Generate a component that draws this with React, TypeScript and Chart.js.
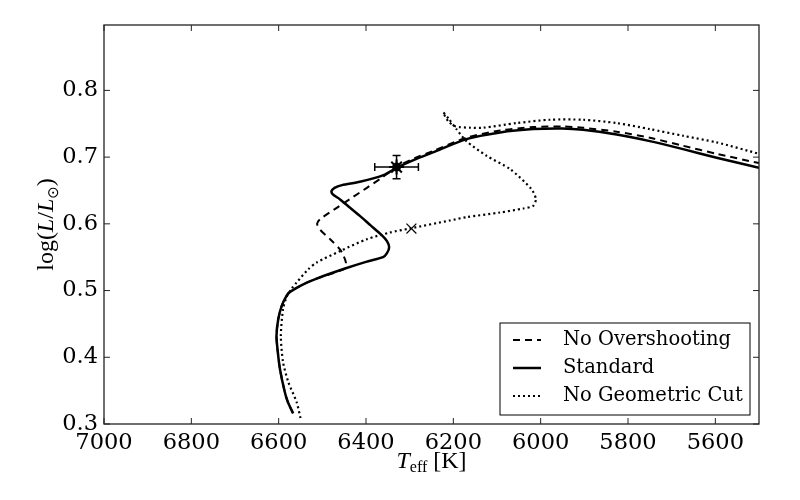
import React, { useEffect, useRef } from "react";
import { Chart, registerables } from "chart.js";

Chart.register(...registerables);

// ---- data ----
const xTicks = [7000, 6800, 6600, 6400, 6200, 6000, 5800, 5600];
const yTicks = [0.3, 0.4, 0.5, 0.6, 0.7, 0.8];
const seriesLabels = ["No Overshooting", "Standard", "No Geometric Cut"];

const standardT = [6567, 6579, 6586, 6597, 6602, 6605, 6601, 6593, 6582, 6574, 6545, 6513, 6448, 6400, 6361, 6352, 6347, 6352, 6364, 6390, 6414, 6440, 6460, 6476, 6479, 6472, 6455, 6414, 6360, 6330, 6290, 6247, 6170, 6093, 6017, 5950, 5903, 5826, 5750, 5674, 5597, 5500];
const standardL = [0.316, 0.333, 0.348, 0.382, 0.408, 0.432, 0.457, 0.477, 0.492, 0.498, 0.509, 0.518, 0.533, 0.543, 0.550, 0.556, 0.565, 0.574, 0.583, 0.598, 0.612, 0.626, 0.637, 0.644, 0.649, 0.654, 0.658, 0.663, 0.673, 0.684, 0.696, 0.707, 0.727, 0.737, 0.742, 0.743, 0.741, 0.734, 0.724, 0.712, 0.699, 0.684];

const noOverT = [6567, 6579, 6586, 6597, 6602, 6605, 6601, 6593, 6582, 6574, 6545, 6513, 6448, 6446, 6452, 6460, 6482, 6505, 6512, 6505, 6467, 6437, 6398, 6364, 6330, 6290, 6247, 6170, 6093, 6017, 5950, 5903, 5826, 5750, 5674, 5597, 5500];
const noOverL = [0.316, 0.333, 0.348, 0.382, 0.408, 0.432, 0.457, 0.477, 0.492, 0.498, 0.509, 0.518, 0.533, 0.542, 0.553, 0.562, 0.577, 0.591, 0.600, 0.607, 0.624, 0.637, 0.654, 0.669, 0.685, 0.698, 0.709, 0.729, 0.740, 0.745, 0.746, 0.744, 0.738, 0.729, 0.717, 0.705, 0.691];

const noCutT = [6550, 6559, 6578, 6590, 6595, 6590, 6582, 6570, 6559, 6532, 6513, 6460, 6398, 6345, 6300, 6208, 6170, 6093, 6040, 6017, 6011, 6021, 6070, 6124, 6170, 6193, 6210, 6223, 6212, 6195, 6160, 6132, 6055, 5979, 5903, 5826, 5750, 5674, 5597, 5500];
const noCutL = [0.309, 0.333, 0.363, 0.393, 0.432, 0.472, 0.490, 0.503, 0.512, 0.532, 0.542, 0.559, 0.577, 0.587, 0.593, 0.605, 0.610, 0.617, 0.623, 0.627, 0.637, 0.652, 0.682, 0.702, 0.724, 0.742, 0.757, 0.767, 0.754, 0.746, 0.744, 0.744, 0.751, 0.756, 0.756, 0.751, 0.742, 0.732, 0.722, 0.705];

const obsT = [6330];
const obsL = [0.685];
const obsErrT = [50];
const obsErrL = [0.0175];

const crossT = [6296];
const crossL = [0.593];

const toPts = (xs: number[], ys: number[]) => xs.map((x, i) => ({ x, y: ys[i] }));

const legendStyles: Record<string, { dash: number[]; width: number }> = {
  "No Overshooting": { dash: [7, 5], width: 2 },
  Standard: { dash: [], width: 2.5 },
  "No Geometric Cut": { dash: [2, 3], width: 2.2 },
};

const overlay = {
  id: "overlay",
  afterDatasetsDraw(chart: any) {
    const ctx = chart.ctx;
    const xs = chart.scales.x;
    const ys = chart.scales.y;
    ctx.save();
    ctx.strokeStyle = "#000";
    ctx.lineWidth = 1.5;
    ctx.setLineDash([]);
    obsT.forEach((t, i) => {
      const l = obsL[i];
      const x0 = xs.getPixelForValue(t - obsErrT[i]);
      const x1 = xs.getPixelForValue(t + obsErrT[i]);
      const yc = ys.getPixelForValue(l);
      const y0 = ys.getPixelForValue(l - obsErrL[i]);
      const y1 = ys.getPixelForValue(l + obsErrL[i]);
      const xc = xs.getPixelForValue(t);
      ctx.beginPath();
      ctx.moveTo(x0, yc); ctx.lineTo(x1, yc);
      ctx.moveTo(x0, yc - 4); ctx.lineTo(x0, yc + 4);
      ctx.moveTo(x1, yc - 4); ctx.lineTo(x1, yc + 4);
      ctx.moveTo(xc, y0); ctx.lineTo(xc, y1);
      ctx.moveTo(xc - 4, y0); ctx.lineTo(xc + 4, y0);
      ctx.moveTo(xc - 4, y1); ctx.lineTo(xc + 4, y1);
      ctx.stroke();
    });
    ctx.restore();
  },
  afterDraw(chart: any) {
    const ctx = chart.ctx;
    const ca = chart.chartArea;
    const xs = chart.scales.x;
    const ys = chart.scales.y;
    ctx.save();
    // frame
    ctx.strokeStyle = "#222";
    ctx.lineWidth = 1.3;
    ctx.setLineDash([]);
    ctx.strokeRect(ca.left, ca.top, ca.right - ca.left, ca.bottom - ca.top);
    // inward ticks
    ctx.lineWidth = 1;
    ctx.beginPath();
    xTicks.forEach((v) => {
      const px = xs.getPixelForValue(v);
      ctx.moveTo(px, ca.bottom); ctx.lineTo(px, ca.bottom - 6);
      ctx.moveTo(px, ca.top); ctx.lineTo(px, ca.top + 6);
    });
    yTicks.forEach((v) => {
      const py = ys.getPixelForValue(v);
      ctx.moveTo(ca.left, py); ctx.lineTo(ca.left + 6, py);
      ctx.moveTo(ca.right, py); ctx.lineTo(ca.right - 6, py);
    });
    ctx.stroke();

    // legend
    const lw = 250, lh = 92;
    const lx = ca.right - 9 - lw;
    const ly = ca.bottom - 9 - lh;
    ctx.fillStyle = "#fff";
    ctx.fillRect(lx, ly, lw, lh);
    ctx.strokeStyle = "#000";
    ctx.lineWidth = 1;
    ctx.strokeRect(lx, ly, lw, lh);
    ctx.font = "19.5px 'DejaVu Serif'";
    ctx.textBaseline = "middle";
    ctx.textAlign = "left";
    ctx.fillStyle = "#000";
    seriesLabels.forEach((lab, i) => {
      const ry = ly + 17 + i * 28;
      const st = legendStyles[lab];
      ctx.beginPath();
      ctx.setLineDash(st.dash);
      ctx.lineWidth = st.width;
      ctx.lineCap = "butt";
      ctx.moveTo(lx + 13, ry);
      ctx.lineTo(lx + 41, ry);
      ctx.stroke();
      ctx.setLineDash([]);
      ctx.fillText(lab, lx + 63, ry);
    });

    // x title: T_eff [K]
    ctx.textBaseline = "alphabetic";
    const big = "24px 'Liberation Serif'";
    const bigI = "italic 24px 'Liberation Serif'";
    const small = "16px 'Liberation Serif'";
    const parts = [
      { t: "T", f: bigI, dy: 0 },
      { t: "eff", f: small, dy: 4 },
      { t: " [K]", f: big, dy: 0 },
    ];
    let w = 0;
    parts.forEach((p) => { ctx.font = p.f; w += ctx.measureText(p.t).width; });
    let cx = (ca.left + ca.right) / 2 - w / 2;
    parts.forEach((p) => {
      ctx.font = p.f;
      ctx.fillText(p.t, cx, 468 + p.dy);
      cx += ctx.measureText(p.t).width;
    });

    // y title: log(L/L_sun)
    const yparts = [
      { t: "log(", f: big, dy: 0 },
      { t: "L", f: bigI, dy: 0 },
      { t: "/", f: big, dy: 0 },
      { t: "L", f: bigI, dy: 0 },
      { t: "\u2299", f: "15px 'DejaVu Sans'", dy: 5 },
      { t: ")", f: big, dy: 0 },
    ];
    let yw = 0;
    yparts.forEach((p) => { ctx.font = p.f; yw += ctx.measureText(p.t).width; });
    ctx.translate(53, (ca.top + ca.bottom) / 2);
    ctx.rotate(-Math.PI / 2);
    let cy = -yw / 2;
    yparts.forEach((p) => {
      ctx.font = p.f;
      ctx.fillText(p.t, cy, p.dy);
      cy += ctx.measureText(p.t).width;
    });
    ctx.restore();
  },
};

export default function App() {
  const ref = useRef<HTMLCanvasElement | null>(null);
  useEffect(() => {
    if (!ref.current) return;
    const chart = new Chart(ref.current, {
      type: "scatter",
      data: {
        datasets: [
          {
            label: "obs",
            data: toPts(obsT, obsL),
            showLine: false,
            pointStyle: "star",
            pointRadius: 7.5,
            borderWidth: 2,
            borderColor: "#000",
            backgroundColor: "#000",
          } as any,
          {
            label: "obsCore",
            data: toPts(obsT, obsL),
            showLine: false,
            pointStyle: "circle",
            pointRadius: 4.5,
            borderWidth: 0,
            backgroundColor: "#000",
          } as any,
          {
            label: "cross",
            data: toPts(crossT, crossL),
            showLine: false,
            pointStyle: "crossRot",
            pointRadius: 7,
            borderWidth: 1.2,
            borderColor: "#000",
          } as any,
          {
            label: seriesLabels[0],
            data: toPts(noOverT, noOverL),
            showLine: true,
            pointRadius: 0,
            borderColor: "#000",
            borderWidth: 2,
            borderDash: [7, 5],
            tension: 0.25,
          } as any,
          {
            label: seriesLabels[1],
            data: toPts(standardT, standardL),
            showLine: true,
            pointRadius: 0,
            borderColor: "#000",
            borderWidth: 2.5,
            tension: 0.25,
          } as any,
          {
            label: seriesLabels[2],
            data: toPts(noCutT, noCutL),
            showLine: true,
            pointRadius: 0,
            borderColor: "#000",
            borderWidth: 2.2,
            borderDash: [2, 3],
            borderCapStyle: "butt",
            tension: 0.25,
          } as any,
        ],
      },
      options: {
        animation: false,
        responsive: false,
        layout: { padding: { top: 25, right: 41, left: 0, bottom: 0 } },
        plugins: { legend: { display: false }, tooltip: { enabled: false } },
        scales: {
          x: {
            type: "linear",
            reverse: true,
            min: 5500,
            max: 7000,
            grid: { display: false, drawTicks: false },
            border: { display: false },
            afterBuildTicks: (s: any) => { s.ticks = xTicks.map((value) => ({ value })); },
            afterFit: (s: any) => { s.height = 76; },
            ticks: {
              autoSkip: false,
              maxRotation: 0,
              padding: 6,
              color: "#000",
              font: { family: "'DejaVu Serif'", size: 22.5 },
              callback: (v: any) => String(v),
            },
          },
          y: {
            type: "linear",
            min: 0.3,
            max: 0.898,
            grid: { display: false, drawTicks: false },
            border: { display: false },
            afterBuildTicks: (s: any) => { s.ticks = yTicks.map((value) => ({ value })); },
            afterFit: (s: any) => { s.width = 104; },
            ticks: {
              padding: 6,
              color: "#000",
              font: { family: "'DejaVu Serif'", size: 22.5 },
              callback: (v: any) => Number(v).toFixed(1),
            },
          },
        },
      } as any,
      plugins: [overlay],
    });
    return () => chart.destroy();
  }, []);
  return (
    <div style={{ position: "absolute", left: 0, top: 0, width: 800, height: 500, background: "#fff" }}>
      <canvas ref={ref} width={800} height={500} style={{ width: 800, height: 500, display: "block" }} />
    </div>
  );
}
